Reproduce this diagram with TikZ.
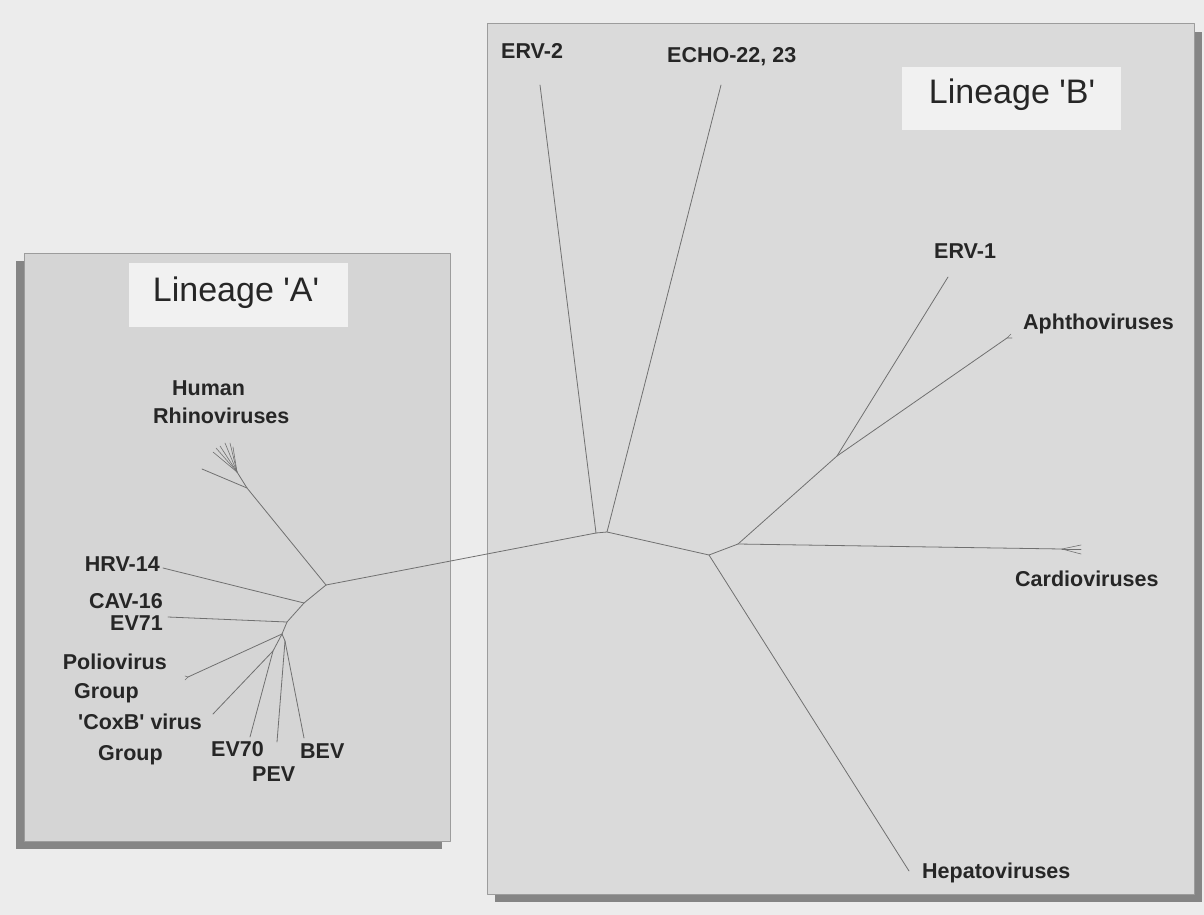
\documentclass[tikz,border=0pt]{standalone}
\usepackage{fontspec}
\setmainfont{Liberation Sans}
\definecolor{paper}{HTML}{ECECEC}
\definecolor{panelA}{HTML}{D5D5D5}
\definecolor{panelB}{HTML}{DADADA}
\definecolor{shadowgrey}{HTML}{858585}
\definecolor{rim}{HTML}{9C9C9C}
\definecolor{tagfill}{HTML}{F1F1F1}
\definecolor{branchgrey}{HTML}{707070}
\definecolor{ink}{HTML}{262626}
\newcommand{\q}{\textquotesingle}
\begin{document}
\begin{tikzpicture}[x=1pt,y=-1pt,line join=round,line cap=round,font=\bfseries\fontsize{21.5}{24}\selectfont]
    \tikzset{branch/.style={draw=branchgrey,line width=0.8pt},
             taxon/.style={text=ink,inner sep=0pt},
             lineage/.style={text=ink,inner sep=0pt,font=\mdseries\fontsize{34}{38}\selectfont}}
    \useasboundingbox[fill=paper] (0,0) rectangle (1204,915);
    % panels with their shadows
    \fill[shadowgrey] (16,261) rectangle (442,849);
    \filldraw[fill=panelA,draw=rim,line width=1pt] (24,253) rectangle (450,841);
    \fill[shadowgrey] (495,32) rectangle (1202,902);
    \filldraw[fill=panelB,draw=rim,line width=1pt] (487,24) rectangle (1194,894);
    \fill[tagfill] (129,263) rectangle (348,327);
    \fill[tagfill] (902,67) rectangle (1121,130);
    \node[lineage] (linA) at (236,293) {Lineage \q A\q};
    \node[lineage] (linB) at (1012,95) {Lineage \q B\q};
    % inner nodes of the tree
    \coordinate (rootA) at (326,585);
    \coordinate (rhino) at (247,488);
    \coordinate (tuft)  at (237,472);
    \coordinate (n14)   at (304,603);
    \coordinate (n71)   at (287,622);
    \coordinate (nC)    at (282,634);
    \coordinate (nD)    at (273,651);
    \coordinate (nE)    at (285,641);
    \coordinate (rootB) at (596,533);
    \coordinate (nB1)   at (607,532);
    \coordinate (nB2)   at (709,555);
    \coordinate (nB3)   at (738,544);
    \coordinate (nB4)   at (837,456);
    % tips
    \coordinate (tRh)   at (202,469);
    \coordinate (t14)   at (163,568);
    \coordinate (t71)   at (168,617);
    \coordinate (tPol)  at (188,677);
    \coordinate (tCox)  at (213,714);
    \coordinate (t70)   at (250,737);
    \coordinate (tPEV)  at (277,742);
    \coordinate (tBEV)  at (304,738);
    \coordinate (tERV2) at (540,85);
    \coordinate (tECHO) at (721,85);
    \coordinate (tERV1) at (948,277);
    \coordinate (tAph)  at (1007,338);
    \coordinate (tCar)  at (1062,549);
    \coordinate (tHep)  at (909,871);
    % lineage A
    \draw[branch] (rootA) -- (rhino) -- (tRh);
    \draw[branch] (rhino) -- (tuft);
    \foreach \tx/\ty in {213/452, 216/448, 220/446, 225/443, 230/443, 233/447}
        \draw[branch,line width=0.6pt] (tuft) -- (\tx,\ty);
    \draw[branch] (rootA) -- (n14) -- (t14);
    \draw[branch] (n14) -- (n71) -- (t71);
    \draw[branch] (n71) -- (nC) -- (tPol);
    \draw[branch,line width=0.6pt] (tPol) -- (185,676) (tPol) -- (185,680);
    \draw[branch] (nC) -- (nD) -- (tCox);
    \draw[branch] (nD) -- (t70);
    \draw[branch] (nC) -- (nE) -- (tPEV);
    \draw[branch] (nE) -- (tBEV);
    % link between the lineages
    \draw[branch] (rootA) -- (rootB);
    % lineage B
    \draw[branch] (rootB) -- (tERV2);
    \draw[branch] (rootB) -- (nB1) -- (tECHO);
    \draw[branch] (nB1) -- (nB2) -- (tHep);
    \draw[branch] (nB2) -- (nB3) -- (tCar);
    \foreach \ty in {545, 549, 554}
        \draw[branch,line width=0.6pt] (tCar) -- (1081,\ty);
    \draw[branch] (nB3) -- (nB4) -- (tERV1);
    \draw[branch] (nB4) -- (tAph);
    \draw[branch,line width=0.6pt] (tAph) -- (1011,334) (tAph) -- (1012,338);
    % labels
    \node[taxon,anchor=base west] (lHum)  at (172,395) {Human};
    \node[taxon,anchor=base west] (lRhi)  at (153,423) {Rhinoviruses};
    \node[taxon,anchor=base east] (l14)   at (160,571) {HRV-14};
    \node[taxon,anchor=base east] (l16)   at (163,608) {CAV-16};
    \node[taxon,anchor=base east] (l71)   at (163,630) {EV71};
    \node[taxon,anchor=base east] (lPol)  at (167,669) {Poliovirus};
    \node[taxon,anchor=base west] (lPolG) at (74,698) {Group};
    \node[taxon,anchor=base west] (lCox)  at (78,729) {\q CoxB\q{} virus};
    \node[taxon,anchor=base west] (lCoxG) at (98,760) {Group};
    \node[taxon,anchor=base west] (l70)   at (211,756) {EV70};
    \node[taxon,anchor=base west] (lPEV)  at (252,781) {PEV};
    \node[taxon,anchor=base west] (lBEV)  at (300,758) {BEV};
    \node[taxon,anchor=base west] (lERV2) at (501,59) {ERV-2};
    \node[taxon,anchor=base west] (lECHO) at (667,63) {ECHO-22, 23};
    \node[taxon,anchor=base west] (lERV1) at (934,258) {ERV-1};
    \node[taxon,anchor=base west] (lAph)  at (1023,329) {Aphthoviruses};
    \node[taxon,anchor=base west] (lCar)  at (1015,586) {Cardioviruses};
    \node[taxon,anchor=base west] (lHep)  at (922,878) {Hepatoviruses};
\end{tikzpicture}
\end{document}
